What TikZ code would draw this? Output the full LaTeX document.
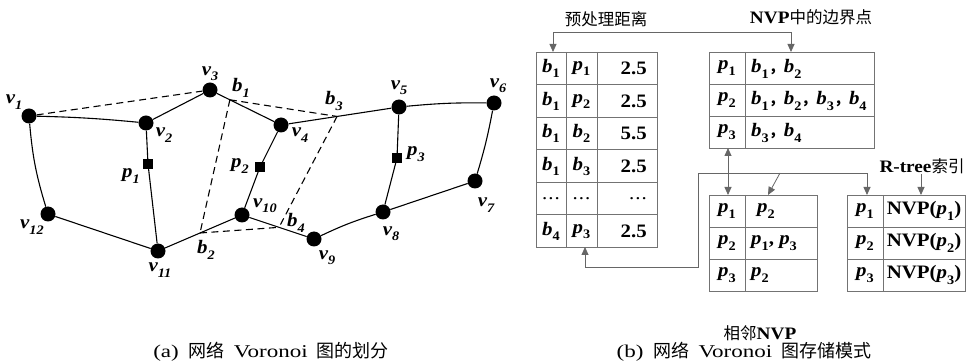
\documentclass[tikz,border=0pt]{standalone}
\usepackage{fontspec}
\setmainfont{Liberation Serif}
\newfontfamily\cjk{Noto Sans CJK SC}
\newfontfamily\tsf{Liberation Serif}[FakeStretch=1.1]
\newfontfamily\capf{Liberation Serif}[FakeStretch=1.28]
\usetikzlibrary{arrows.meta,calc}
\newcommand{\mb}[2]{{\itshape #1}\raisebox{-0.28em}{\fontsize{13}{13}\selectfont #2}}
\newcommand{\lblfont}{\tsf\fontsize{19}{20}\selectfont\bfseries\itshape}
\newcommand{\cellfont}{\tsf\fontsize{19}{20}\selectfont\bfseries}
\newcommand{\cjkfont}{\cjk\fontsize{16.5}{18}\selectfont}
\newcommand{\cm}{{\cjk\fontsize{15}{18}\selectfont ，}}
\newcommand{\tdots}{{\mdseries .\kern1pt.\kern1pt.}}
\begin{document}
\begin{tikzpicture}[x=1pt,y=-1pt,
  vtx/.style={circle,fill=black,minimum size=15pt,inner sep=0pt},
  site/.style={rectangle,fill=black,minimum size=9.5pt,inner sep=0pt},
  lbl/.style={inner sep=0pt,font=\lblfont},
  cell/.style={inner sep=0pt,font=\cellfont},
  edge/.style={line width=1.1pt},
  vd/.style={line width=1.1pt,dash pattern=on 7pt off 4.5pt},
  grid/.style={draw=black!55,line width=0.8pt},
  conn/.style={draw=black!60,line width=0.8pt},
  tip/.style={-{Triangle[length=8pt,width=7pt]}},
  tips/.style={{Triangle[length=8pt,width=7pt]}-{Triangle[length=8pt,width=7pt]}},
  cjklbl/.style={inner sep=0pt,font=\cjkfont},
  capt/.style={inner sep=0pt,font=\capf\fontsize{18}{20}\selectfont},
]
\useasboundingbox (0,0) rectangle (967,363);

% ---------------- (a) ----------------
\node[vtx] (v1) at (29,116) {};
\node[vtx] (v2) at (146,123) {};
\node[vtx] (v3) at (210,90) {};
\node[vtx] (v4) at (281,125) {};
\node[vtx] (v5) at (399,107) {};
\node[vtx] (v6) at (494,103) {};
\node[vtx] (v7) at (475,181) {};
\node[vtx] (v8) at (383,212) {};
\node[vtx] (v9) at (314,239) {};
\node[vtx] (v10) at (242,215) {};
\node[vtx] (v11) at (158,251) {};
\node[vtx] (v12) at (48,214) {};
\node[site] (p1) at (148,164) {};
\node[site] (p2) at (260,167) {};
\node[site] (p3) at (397,158) {};

\coordinate (b1) at ($(v3)!0.28!(v4)$);
\coordinate (b3) at ($(v4)!0.475!(v5)$);
\coordinate (b2) at ($(v11)!0.5!(v10)$);
\coordinate (b4) at ($(v10)!0.514!(v9)$);

\draw[edge] (v1) to[bend left=2] (v2);
\draw[edge] (v2) -- (v3);
\draw[edge] (v3) -- (v4);
\draw[edge] (v4) -- (v5);
\draw[edge] (v5) to[bend left=3] (v6);
\draw[edge] (v6) to[bend left=3] (v7);
\draw[edge] (v7) -- (v8);
\draw[edge] (v8) to[bend right=4] (v9);
\draw[edge] (v9) -- (v10);
\draw[edge] (v10) -- (v11);
\draw[edge] (v11) -- (v12);
\draw[edge] (v12) to[bend left=6] (v1);
\draw[edge] (v2) -- (p1) -- (v11);
\draw[edge] (v4) -- (p2) -- (v10);
\draw[edge] (v5) -- (p3) -- (v8);

\draw[vd] (v1) -- (v3);
\draw[vd] (b1) -- (b3);
\draw[vd] (b1) -- (b2);
\draw[vd] (b3) -- (b4);
\draw[vd] (b2) -- (b4);

\node[lbl] (lv1) at (14,102) {\mb{v}{1}};
\node[lbl] (lv2) at (164,135) {\mb{v}{2}};
\node[lbl] (lv3) at (210,74) {\mb{v}{3}};
\node[lbl] (lb1) at (241,88) {\mb{b}{1}};
\node[lbl] (lv4) at (300,135) {\mb{v}{4}};
\node[lbl] (lb3) at (334,101) {\mb{b}{3}};
\node[lbl] (lv5) at (399,88) {\mb{v}{5}};
\node[lbl] (lv6) at (498,86) {\mb{v}{6}};
\node[lbl] (lp1) at (131,176) {\mb{p}{1}};
\node[lbl] (lp2) at (240,166) {\mb{p}{2}};
\node[lbl] (lp3) at (416,154) {\mb{p}{3}};
\node[lbl] (lv7) at (486,205) {\mb{v}{7}};
\node[lbl] (lv8) at (391,234) {\mb{v}{8}};
\node[lbl] (lv9) at (327,258) {\mb{v}{9}};
\node[lbl] (lv10) at (265,206) {\mb{v}{10}};
\node[lbl] (lb4) at (296,223) {\mb{b}{4}};
\node[lbl] (lb2) at (206,250) {\mb{b}{2}};
\node[lbl] (lv11) at (160,270) {\mb{v}{11}};
\node[lbl] (lv12) at (32,227) {\mb{v}{12}};

\node[capt] (capa) at (271,352) {(a)\hspace{10pt}{\cjk 网络}\hspace{9pt}Voronoi\hspace{9pt}{\cjk 图的划分}};

% ---------------- (b) ----------------
% table 1
\draw[grid] (536,52) rectangle (657,247);
\foreach \y in {84.5,117,149.5,182,214.5} \draw[grid] (536,\y) -- (657,\y);
\draw[grid] (566,52) -- (566,247);
\draw[grid] (597,52) -- (597,247);
\foreach [count=\i] \a/\b/\c in {\mb{b}{1}/\mb{p}{1}/2.5, \mb{b}{1}/\mb{p}{2}/2.5, \mb{b}{1}/\mb{b}{2}/5.5, \mb{b}{1}/\mb{b}{3}/2.5, \tdots/\tdots/\tdots, \mb{b}{4}/\mb{p}{3}/2.5}{
  \node[cell] (ta\i) at (551,{36.25+32.5*\i}) {\a};
  \node[cell] (tb\i) at (581.5,{36.25+32.5*\i}) {\b};
  \node[cell,anchor=east] (tc\i) at (647,{36.25+32.5*\i}) {\c};
}

% table 2
\draw[grid] (709,52) rectangle (874,148);
\draw[grid] (709,84) -- (874,84);
\draw[grid] (709,116) -- (874,116);
\draw[grid] (745,52) -- (745,148);
\node[cell] (ua1) at (727,68) {\mb{p}{1}};
\node[cell] (ua2) at (727,100) {\mb{p}{2}};
\node[cell] (ua3) at (727,132) {\mb{p}{3}};
\node[cell,anchor=west] (ub1) at (751,69) {\mb{b}{1}\cm\mb{b}{2}};
\node[cell,anchor=west] (ub2) at (751,101) {\mb{b}{1}\cm\mb{b}{2}\cm\mb{b}{3}\cm\mb{b}{4}};
\node[cell,anchor=west] (ub3) at (751,133) {\mb{b}{3}\cm\mb{b}{4}};

% table 3
\draw[grid] (709,195) rectangle (817,291);
\draw[grid] (709,227) -- (817,227);
\draw[grid] (709,259) -- (817,259);
\draw[grid] (745,195) -- (745,291);
\node[cell] (wa1) at (727,211) {\mb{p}{1}};
\node[cell] (wa2) at (727,243) {\mb{p}{2}};
\node[cell] (wa3) at (727,275) {\mb{p}{3}};
\node[cell,anchor=west] (wb1) at (757,211) {\mb{p}{2}};
\node[cell,anchor=west] (wb2) at (751,243) {\mb{p}{1}, \mb{p}{3}};
\node[cell,anchor=west] (wb3) at (751,275) {\mb{p}{2}};

% table 4
\draw[grid] (847,195) rectangle (965,291);
\draw[grid] (847,227) -- (965,227);
\draw[grid] (847,259) -- (965,259);
\draw[grid] (883,195) -- (883,291);
\node[cell] (xa1) at (865,211) {\mb{p}{1}};
\node[cell] (xa2) at (865,243) {\mb{p}{2}};
\node[cell] (xa3) at (865,275) {\mb{p}{3}};
\node[cell] (xb1) at (924,211) {NVP(\mb{p}{1})};
\node[cell] (xb2) at (924,243) {NVP(\mb{p}{2})};
\node[cell] (xb3) at (924,275) {NVP(\mb{p}{3})};

% labels
\node[cjklbl] (h1) at (606,19) {预处理距离};
\node[cjklbl] (h2) at (811,17) {{\tsf\fontsize{17.5}{20}\selectfont\bfseries NVP}中的边界点};
\node[cjklbl] (h3) at (922,166) {{\tsf\fontsize{17.5}{20}\selectfont\bfseries R-tree}索引};
\node[cjklbl] (h4) at (760,333) {相邻{\tsf\fontsize{17.5}{20}\selectfont\bfseries NVP}};

% connectors
\coordinate (t1in) at (553,52);
\coordinate (t2in) at (791,52);
\coordinate (t2out) at (728,148);
\coordinate (t3in) at (728,195);
\coordinate (t3in2) at (768,195);
\coordinate (t1out) at (585,247);
\coordinate (jn) at (698,173);
\coordinate (br) at (780,173);
\coordinate (t4in) at (867,195);
\coordinate (t4in2) at (921,195);
\coordinate (rts) at (921,174);

\draw[conn,tips] (t1in) -- ++(0,-20) -| (t2in);
\draw[conn,tips] (t2out) -- (t3in);
\draw[conn,tips] (t1out) -- ++(0,20) -| (jn) -| (t4in);
\draw[conn,tip] (br) -- (t3in2);
\draw[conn,tip] (rts) -- (t4in2);

\node[capt] (capb) at (744,352) {(b)\hspace{10pt}{\cjk 网络}\hspace{9pt}Voronoi\hspace{9pt}{\cjk 图存储模式}};
\end{tikzpicture}
\end{document}
